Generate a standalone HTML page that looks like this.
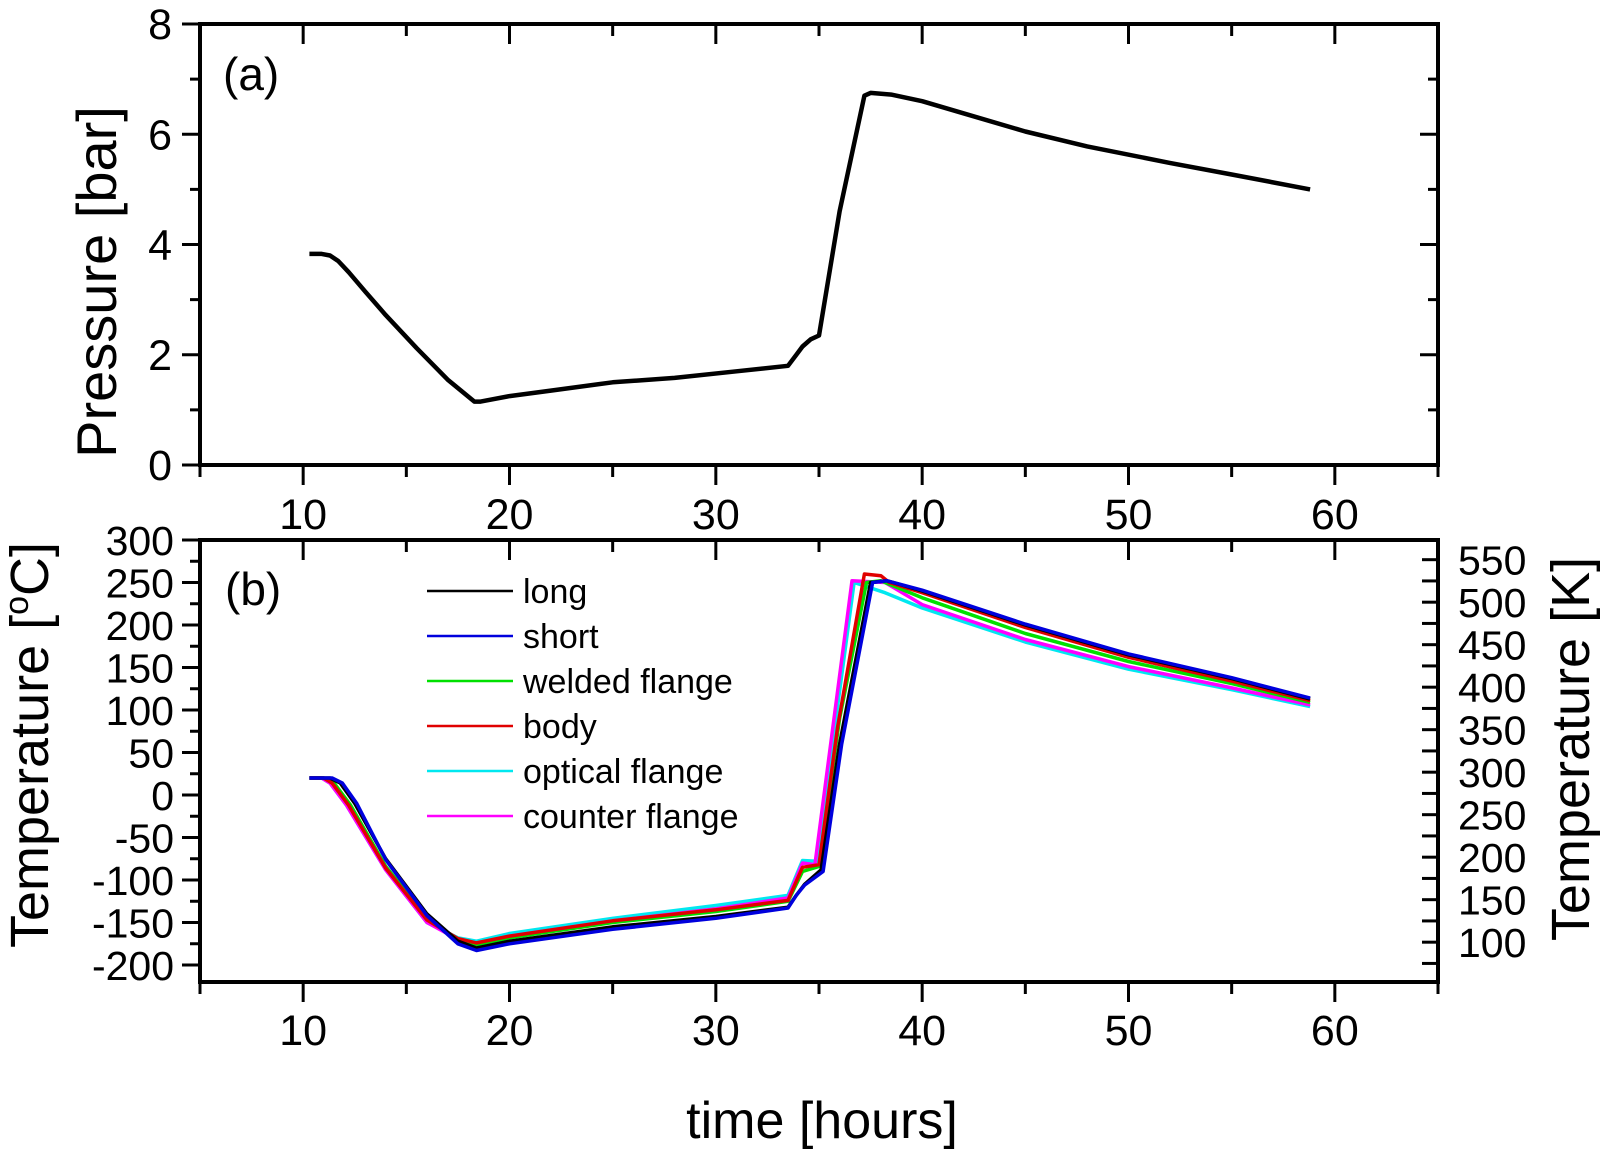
<!DOCTYPE html>
<html><head><meta charset="utf-8"><style>
html,body{margin:0;padding:0;background:#fff;}
svg{display:block;font-family:"Liberation Sans",Arial,sans-serif;}
</style></head><body>
<svg id="chart" width="1600" height="1152" viewBox="0 0 1600 1152" xmlns="http://www.w3.org/2000/svg"></svg>
<script>
// ---- data ----
const pressureTimes = [10.3,10.9,11.3,11.7,12.2,13,14,15.5,17,18.3,18.6,20,22,25,28,31,33.5,33.9,34.2,34.6,35,36,37.2,37.5,38.5,40,42,45,48,52,55,58.8];
const pressureValues = [3.83,3.83,3.8,3.7,3.5,3.15,2.72,2.12,1.55,1.15,1.15,1.25,1.35,1.5,1.58,1.7,1.8,2.0,2.15,2.28,2.35,4.6,6.7,6.75,6.72,6.6,6.38,6.05,5.78,5.48,5.27,5.0];

const seriesNames = ["long","short","welded flange","body","optical flange","counter flange"];
const longTimes = [10.3,11.3,11.8,12.5,14,16,17.5,18.4,20,25,30,33.5,33.9,34.3,35.1,36,37.5,38.3,40,45,50,55,58.8];
const longValues = [20,20,14,-10,-75,-140,-172,-180,-172,-155,-143,-132,-118,-105,-88,60,250,252,240,200,165,137,113];
const shortTimes = [10.3,11.4,11.9,12.6,14,16,17.5,18.4,20,25,30,33.5,33.9,34.3,35.2,36.1,37.6,38.3,40,45,50,55,58.8];
const shortValues = [20,20,14,-10,-76,-142,-175,-183,-175,-158,-145,-133,-118,-106,-90,60,250,252,241,201,166,138,114];
const weldedTimes = [10.3,11,11.5,12.3,14,16,17.5,18.4,20,25,30,33.5,34.2,35,36,37.3,38,40,45,50,55,58.8];
const weldedValues = [20,20,14,-12,-84,-145,-170,-176,-168,-150,-137,-125,-90,-84,90,250,252,232,190,157,131,109];
const bodyTimes = [10.3,11,11.4,12.2,14,16,17.5,18.4,20,25,30,33.5,34.2,35,35.9,37.2,38,38.4,40,45,50,55,58.8];
const bodyValues = [20,20,14,-12,-86,-147,-169,-174,-166,-148,-135,-124,-85,-82,80,260,258,250,238,197,162,134,111];
const opticalTimes = [10.3,10.9,11.3,12.1,14,16,17.5,18.4,20,25,30,33.5,34.2,34.9,36.7,38.2,40,45,50,55,58.8];
const opticalValues = [20,20,14,-12,-88,-150,-168,-172,-163,-145,-130,-118,-77,-78,250,238,220,180,148,124,104];
const counterTimes = [10.3,10.9,11.3,12.1,14,16,17.5,18.4,20,25,30,33.5,34.2,34.8,36.6,38.2,40,45,50,55,58.8];
const counterValues = [20,20,14,-12,-88,-150,-170,-175,-166,-148,-134,-121,-80,-82,252,250,224,183,151,126,106];
const seriesColors = ["#000000","#0000dd","#00e000","#e00000","#00e8f0","#ff00ff"];

const xTicks = [10,20,30,40,50,60];
const pTicks = [0,2,4,6,8];
const cTicks = [300,250,200,150,100,50,0,-50,-100,-150,-200];
const kTicks = [550,500,450,400,350,300,250,200,150,100];

// ---- geometry ----
const L=200,R=1438;
const xs = t => L + (t-5)/(65-5)*(R-L);
const pTop=24,pBot=465, ysP = v => pBot - v/8*(pBot-pTop);
const bTop=540,bBot=982, ysT = v => bBot - (v+220)/520*(bBot-bTop);
const ysK = k => ysT(k-273.15);

const svg=document.getElementById('chart');
const NS="http://www.w3.org/2000/svg";
function mk(tag,attrs,parent){const e=document.createElementNS(NS,tag);for(const k in attrs)e.setAttribute(k,attrs[k]);(parent||svg).appendChild(e);return e;}
function txt(s,attrs,parent){const e=mk('text',attrs,parent);e.textContent=s;return e;}

function frame(top,bot,name){
  const g=mk('g',{});
  
  
  mk('rect',{x:L,y:top,width:R-L,height:bot-top,fill:'none',stroke:'#000','stroke-width':4},g);
  for(let t=5;t<=65;t+=5){
    const major=(t%10===0); const len=major?20:12; const x=xs(t);
    mk('line',{x1:x,y1:bot,x2:x,y2:bot+len,stroke:'#000','stroke-width':3},g);
    mk('line',{x1:x,y1:top,x2:x,y2:top+len,stroke:'#000','stroke-width':3},g);
  }
  return g;
}
// ---- panel a ----
const fa=frame(pTop,pBot,'pressure-panel');
for(let v=0;v<=8;v++){const y=ysP(v);const len=(v%2===0)?18:10;
  mk('line',{x1:L-len,y1:y,x2:L,y2:y,stroke:'#000','stroke-width':3},fa);
  mk('line',{x1:R-len,y1:y,x2:R,y2:y,stroke:'#000','stroke-width':3},fa);}
pTicks.forEach(v=>{const e=txt(String(v),{x:172,y:ysP(v)+15,'font-size':43,'text-anchor':'end'});
  
  });
xTicks.forEach(v=>{const e=txt(String(v),{x:xs(v),y:529,'font-size':43,'text-anchor':'middle'});
  
  });
let d=pressureTimes.map((t,i)=>(i?'L':'M')+xs(t).toFixed(1)+' '+ysP(pressureValues[i]).toFixed(1)).join(' ');
const pl=mk('path',{d:d,fill:'none',stroke:'#000','stroke-width':4.5,'stroke-linejoin':'round'});


const la=txt('(a)',{x:223,y:90,'font-size':46});


const pt=txt('Pressure [bar]',{x:0,y:0,'font-size':56,'text-anchor':'middle',transform:'translate(116,282) rotate(-90)'});



// ---- panel b ----
const fb=frame(bTop,bBot,'temperature-panel');
for(let v=-200;v<=300;v+=25){const y=ysT(v);const len=(v%50===0)?18:10;
  mk('line',{x1:L-len,y1:y,x2:L,y2:y,stroke:'#000','stroke-width':3},fb);}
for(let k=75;k<=575;k+=25){const y=ysK(k);if(y<bTop||y>bBot)continue;
  mk('line',{x1:R-16,y1:y,x2:R,y2:y,stroke:'#000','stroke-width':3},fb);}
cTicks.forEach(v=>{const e=txt(String(v),{x:174,y:ysT(v)+15,'font-size':41,'text-anchor':'end'});
  
  });
kTicks.forEach(v=>{const e=txt(String(v),{x:1458,y:ysK(v)+15,'font-size':41,'text-anchor':'start'});
  
  });
xTicks.forEach(v=>{const e=txt(String(v),{x:xs(v),y:1045,'font-size':43,'text-anchor':'middle'});
  
  });

const allT=[longTimes,shortTimes,weldedTimes,bodyTimes,opticalTimes,counterTimes];
const allV=[longValues,shortValues,weldedValues,bodyValues,opticalValues,counterValues];
const order=[4,5,2,3,0,1];
order.forEach(s=>{
  const dd=allT[s].map((t,i)=>(i?'L':'M')+xs(t).toFixed(1)+' '+ysT(allV[s][i]).toFixed(1)).join(' ');
  const p=mk('path',{d:dd,fill:'none',stroke:seriesColors[s],'stroke-width':3.5,'stroke-linejoin':'round'});
  
  
});
// legend
const lg=mk('g',{});


seriesNames.forEach((n,i)=>{
  const y=591+i*45;
  const ln=mk('line',{x1:427,y1:y,x2:513,y2:y,stroke:seriesColors[i],'stroke-width':2.5},lg);
  
  
  const t=txt(n,{x:523,y:y+12,'font-size':34},lg);
  
  
});
const lb=txt('(b)',{x:225,y:605,'font-size':46});


const ct=mk('text',{x:0,y:0,'font-size':54,'text-anchor':'middle',transform:'translate(48,745) rotate(-90)'});


ct.appendChild(document.createTextNode('Temperature ['));
const sup=mk('tspan',{'font-size':34,dy:-20},ct); sup.textContent='o';
const rest=mk('tspan',{dy:20},ct); rest.textContent='C]';
const kt=txt('Temperature [K]',{x:0,y:0,'font-size':54,'text-anchor':'middle',transform:'translate(1589,749) rotate(-90)'});


const xt=txt('time [hours]',{x:822,y:1138,'font-size':52,'text-anchor':'middle'});


</script>
</body></html>
